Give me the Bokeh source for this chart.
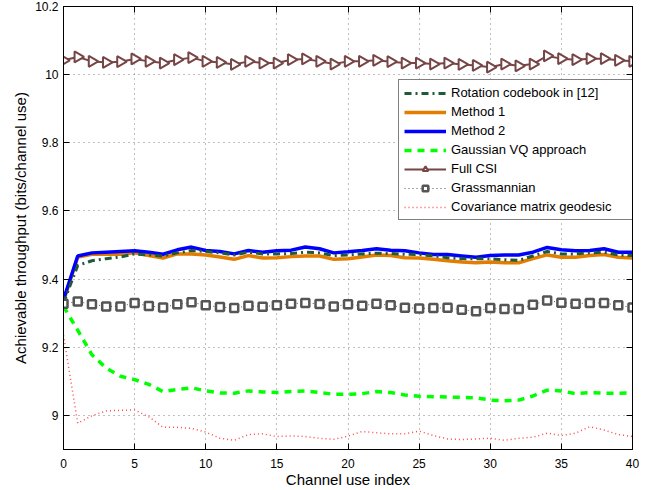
import numpy as np
from bokeh.plotting import figure
from bokeh.models import (Range1d, FixedTicker, CustomJSTickFormatter, LinearAxis,
                          Legend, LegendItem)
from bokeh.embed import file_html
from bokeh.resources import INLINE

# ---- data -------------------------------------------------------------
channel_use = list(range(41))

rotation_codebook = [9.330, 9.440, 9.454, 9.460, 9.465, 9.474, 9.471, 9.468, 9.477, 9.484,
                     9.481, 9.477, 9.471, 9.479, 9.474, 9.474, 9.475, 9.479, 9.477, 9.469,
                     9.471, 9.474, 9.476, 9.475, 9.473, 9.472, 9.468, 9.463, 9.460, 9.460,
                     9.460, 9.457, 9.455, 9.468, 9.481, 9.474, 9.474, 9.477, 9.479, 9.471,
                     9.469]
method_1 = [9.335, 9.465, 9.473, 9.474, 9.473, 9.477, 9.469, 9.462, 9.474, 9.474,
            9.471, 9.465, 9.458, 9.469, 9.462, 9.463, 9.466, 9.468, 9.468, 9.458,
            9.460, 9.465, 9.471, 9.469, 9.463, 9.462, 9.458, 9.454, 9.450, 9.448,
            9.450, 9.448, 9.448, 9.460, 9.471, 9.464, 9.464, 9.469, 9.472, 9.464,
            9.462]
method_2 = [9.340, 9.468, 9.477, 9.479, 9.481, 9.483, 9.479, 9.473, 9.486, 9.494,
            9.484, 9.481, 9.474, 9.484, 9.479, 9.483, 9.485, 9.494, 9.489, 9.477,
            9.480, 9.484, 9.489, 9.485, 9.483, 9.477, 9.472, 9.472, 9.468, 9.464,
            9.469, 9.471, 9.471, 9.479, 9.493, 9.486, 9.483, 9.484, 9.489, 9.479,
            9.479]
gaussian_vq = [9.320, 9.250, 9.178, 9.139, 9.115, 9.105, 9.091, 9.070, 9.076, 9.081,
               9.072, 9.066, 9.065, 9.072, 9.069, 9.067, 9.070, 9.072, 9.067, 9.062,
               9.062, 9.064, 9.070, 9.067, 9.060, 9.056, 9.055, 9.054, 9.053, 9.052,
               9.045, 9.043, 9.045, 9.057, 9.074, 9.072, 9.064, 9.067, 9.065, 9.065,
               9.066]
full_csi = [10.042, 10.052, 10.039, 10.036, 10.038, 10.046, 10.039, 10.034, 10.044, 10.050,
            10.039, 10.036, 10.030, 10.039, 10.034, 10.034, 10.044, 10.046, 10.039, 10.031,
            10.039, 10.039, 10.042, 10.038, 10.034, 10.034, 10.031, 10.034, 10.030, 10.027,
            10.022, 10.031, 10.026, 10.031, 10.055, 10.047, 10.044, 10.047, 10.047, 10.042,
            10.039]
grassmannian = [9.328, 9.334, 9.326, 9.320, 9.320, 9.330, 9.321, 9.317, 9.326, 9.332,
                9.323, 9.318, 9.315, 9.322, 9.319, 9.323, 9.328, 9.330, 9.327, 9.320,
                9.326, 9.322, 9.328, 9.323, 9.316, 9.314, 9.315, 9.316, 9.310, 9.306,
                9.315, 9.312, 9.312, 9.325, 9.337, 9.331, 9.328, 9.330, 9.330, 9.323,
                9.317]
covariance_geodesic = [9.235, 8.977, 8.999, 9.013, 9.015, 9.016, 8.996, 8.965, 8.965, 8.962,
                       8.951, 8.933, 8.927, 8.944, 8.946, 8.938, 8.940, 8.938, 8.933, 8.930,
                       8.939, 8.953, 8.949, 8.946, 8.946, 8.954, 8.941, 8.931, 8.929, 8.931,
                       8.933, 8.927, 8.933, 8.936, 8.948, 8.941, 8.948, 8.967, 8.957, 8.944,
                       8.938]

x_ticks = [0, 5, 10, 15, 20, 25, 30, 35, 40]
y_ticks = [9.0, 9.2, 9.4, 9.6, 9.8, 10.0, 10.2]

FONT = "Liberation Sans"

# ---- figure -----------------------------------------------------------
p = figure(width=650, height=490, output_backend="svg", toolbar_location=None,
           x_range=Range1d(0, 40), y_range=Range1d(8.9, 10.2),
           min_border_left=63, min_border_right=18, min_border_top=6,
           min_border_bottom=38)
p.background_fill_color = "white"
p.border_fill_color = "white"
p.outline_line_color = "black"
p.outline_line_width = 1

fmt = CustomJSTickFormatter(code="""
    return Math.abs(tick - Math.round(tick)) < 1e-9 ? tick.toFixed(0) : tick.toFixed(1);
""")

for ax in (p.xaxis[0], p.yaxis[0]):
    ax.axis_line_color = "black"
    ax.major_tick_line_color = "black"
    ax.major_tick_in = 6
    ax.major_tick_out = 0
    ax.minor_tick_line_color = None
    ax.major_label_text_font = FONT
    ax.major_label_text_font_size = "12px"
    ax.major_label_text_color = "black"
    ax.major_label_text_line_height = 1.0
    ax.axis_label_text_font = FONT
    ax.axis_label_text_font_size = "15px"
    ax.axis_label_text_font_style = "normal"
    ax.axis_label_text_color = "black"
    ax.axis_label_text_line_height = 1.0

p.xaxis.ticker = FixedTicker(ticks=x_ticks)
p.yaxis.ticker = FixedTicker(ticks=y_ticks)
p.yaxis.formatter = fmt
p.xaxis.axis_label = "Channel use index"
p.yaxis.axis_label = "Achievable throughput (bits/channel use)"
p.xaxis.major_label_standoff = 9
p.xaxis.axis_label_standoff = 0
p.yaxis.major_label_standoff = 5
p.yaxis.axis_label_standoff = 3

# box ticks on the opposite sides (no labels)
blank = CustomJSTickFormatter(code="return '';")
for loc, tk in (("right", y_ticks), ("above", x_ticks)):
    ax = LinearAxis(ticker=FixedTicker(ticks=tk), formatter=blank,
                    major_label_standoff=0, major_tick_in=6, major_tick_out=0,
                    minor_tick_line_color=None, axis_line_color="black",
                    major_tick_line_color="black")
    p.add_layout(ax, loc)

for g in (p.xgrid[0], p.ygrid[0]):
    g.grid_line_color = "#808080"
    g.grid_line_dash = "1 4"
    g.grid_line_width = 1
p.xgrid.ticker = FixedTicker(ticks=x_ticks)
p.ygrid.ticker = FixedTicker(ticks=y_ticks)

# ---- series -----------------------------------------------------------
r_m1 = p.line(channel_use, method_1, line_color="#e37d00", line_width=3.5)
r_m2 = p.line(channel_use, method_2, line_color="#0000ff", line_width=3.5)
r_rot = p.line(channel_use, rotation_codebook, line_color="#1f5a3a", line_width=3,
               line_dash="7 4 2 4")
r_gvq = p.line(channel_use, gaussian_vq, line_color="#00ff00", line_width=3.5,
               line_dash="7 6")
r_csi_l = p.line(channel_use, full_csi, line_color="#774545", line_width=2)
# right-pointing triangles
r_csi_m = p.scatter(channel_use, full_csi, marker="triangle", size=11,
                    angle=-np.pi / 2, line_color="#774545", line_width=2,
                    fill_color="white")
r_gr_l = p.line(channel_use, grassmannian, line_color="#555555", line_width=1,
                line_dash="1 3")
r_gr_m = p.scatter(channel_use, grassmannian, marker="square", size=8,
                   line_color="#555555", line_width=2.5, fill_color="white")
r_cov = p.line(channel_use, covariance_geodesic, line_color="#ff4a4a", line_width=1.5,
               line_dash="1 3")

legend = Legend(items=[
    LegendItem(label="Rotation codebook in [12]", renderers=[r_rot]),
    LegendItem(label="Method 1", renderers=[r_m1]),
    LegendItem(label="Method 2", renderers=[r_m2]),
    LegendItem(label="Gaussian VQ approach", renderers=[r_gvq]),
    LegendItem(label="Full CSI", renderers=[r_csi_l, r_csi_m]),
    LegendItem(label="Grassmannian", renderers=[r_gr_l, r_gr_m]),
    LegendItem(label="Covariance matrix geodesic", renderers=[r_cov]),
], location=(335, 229))
legend.label_text_font = FONT
legend.label_text_font_size = "13px"
legend.label_text_color = "black"
legend.glyph_width = 42
legend.glyph_height = 14
legend.label_height = 14
legend.label_width = 176
legend.label_standoff = 5
legend.spacing = 4
legend.padding = 5
legend.margin = 0
legend.border_line_color = "black"
legend.border_line_width = 1
legend.background_fill_color = "white"
legend.background_fill_alpha = 1
p.add_layout(legend)

open("out.html", "w").write(file_html(p, INLINE))
